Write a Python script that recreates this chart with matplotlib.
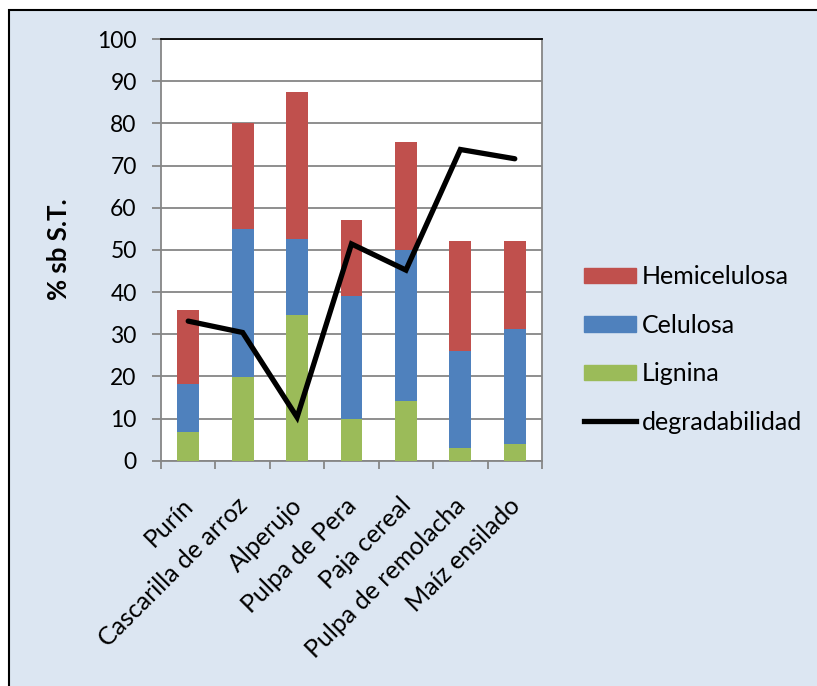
import matplotlib
matplotlib.use("Agg")
import matplotlib.pyplot as plt
from matplotlib.patches import Rectangle
from matplotlib.lines import Line2D
import numpy as np

plt.rcParams['font.family'] = ['Lato', 'DejaVu Sans']

categories = ["Purín", "Cascarilla de arroz", "Alperujo", "Pulpa de Pera",
              "Paja cereal", "Pulpa de remolacha", "Maíz ensilado"]
lignina = [6.7, 19.9, 34.5, 10.0, 14.1, 3.0, 4.0]
celulosa = [11.6, 35.0, 18.0, 29.1, 35.9, 23.0, 27.3]
hemicelulosa = [17.4, 25.1, 34.9, 17.9, 25.6, 26.0, 20.8]
degradabilidad = [33.1, 30.4, 10.3, 51.4, 45.2, 73.8, 71.6]
y_ticks = [0, 10, 20, 30, 40, 50, 60, 70, 80, 90, 100]

BG = "#DCE6F2"
RED = "#C0504D"
BLUE = "#4F81BD"
GREEN = "#9BBB59"
GRID = "#868686"
FS = 16.5

W, H = 817, 686
fig = plt.figure(figsize=(W / 100, H / 100), dpi=100)
fig.patch.set_facecolor("white")

# chart frame (extends past the right and bottom edges)
fig.patches.append(Rectangle((9 / W, -0.05), 1.0, 1 - 10 / H + 0.05,
                             transform=fig.transFigure, facecolor=BG,
                             edgecolor="black", linewidth=1.5, zorder=-10))

ax = fig.add_axes([161 / W, 1 - 460.7 / H, (542 - 161) / W, (460.7 - 39) / H])
ax.set_facecolor("white")
ax.set_zorder(1)

x = np.arange(len(categories))
width = 0.4
bot2 = np.array(lignina)
bot3 = bot2 + np.array(celulosa)
ax.bar(x, lignina, width, color=GREEN, zorder=3)
ax.bar(x, celulosa, width, bottom=bot2, color=BLUE, zorder=3)
ax.bar(x, hemicelulosa, width, bottom=bot3, color=RED, zorder=3)
ax.plot(x, degradabilidad, color="black", linewidth=3.8, zorder=4,
        solid_capstyle="round", solid_joinstyle="miter")

ax.set_xlim(-0.5, len(categories) - 0.5)
ax.set_ylim(0, 100)
ax.set_yticks(y_ticks)
ax.set_yticklabels([str(v) for v in y_ticks], fontsize=FS)
ax.yaxis.grid(True, color=GRID, linewidth=1.3, zorder=1)
ax.set_axisbelow(True)
ax.tick_params(axis="y", direction="out", length=6.5, width=1.3, color=GRID, pad=11)

# category ticks at boundaries, labels at centres
ax.set_xticks(np.arange(len(categories) + 1) - 0.5)
ax.set_xticklabels([])
ax.tick_params(axis="x", direction="out", length=6, width=1.3, color=GRID)
for xi, lab in zip(x, categories):
    ax.annotate(lab, xy=(xi, 0), xycoords=("data", "axes fraction"),
                xytext=(-7, -33), textcoords="offset pixels",
                rotation=45, ha="right", va="top", rotation_mode="anchor",
                fontsize=18)

for s in ["left", "bottom", "right"]:
    ax.spines[s].set_color(GRID)
    ax.spines[s].set_linewidth(1.3)
ax.spines["top"].set_color("black")
ax.spines["top"].set_linewidth(1.3)

fig.text(59 / W, 1 - 249 / H, "% sb S.T.", rotation=90, ha="center", va="center",
         fontsize=18.5, fontweight="bold")

handles = [Rectangle((0, 0), 1, 1, color=RED),
           Rectangle((0, 0), 1, 1, color=BLUE),
           Rectangle((0, 0), 1, 1, color=GREEN),
           Line2D([0], [0], color="black", linewidth=3.8)]
labels = ["Hemicelulosa", "Celulosa", "Lignina", "degradabilidad"]
fig.legend(handles, labels, loc="center left",
           bbox_to_anchor=(584 / W, 1 - 349.5 / H), frameon=False,
           fontsize=18, handlelength=2.08, handleheight=0.6,
           handletextpad=0.25, labelspacing=1.02, borderpad=0,
           borderaxespad=0)

fig.savefig("out.png", dpi=100, facecolor=fig.get_facecolor())
